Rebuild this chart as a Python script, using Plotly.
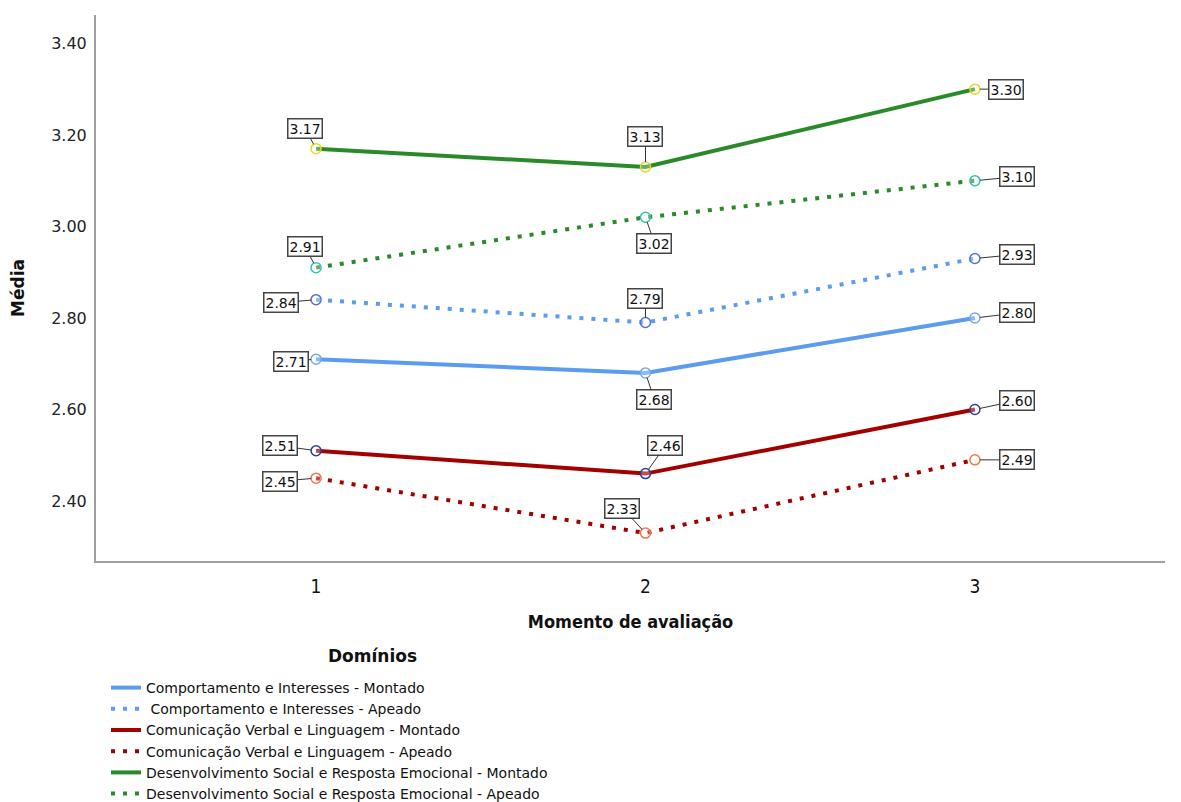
import plotly.graph_objects as go

moments = [1, 2, 3]
series_names = [
    "Comportamento e Interesses - Montado",
    " Comportamento e Interesses - Apeado",
    "Comunicação Verbal e Linguagem - Montado",
    "Comunicação Verbal e Linguagem - Apeado",
    "Desenvolvimento Social e Resposta Emocional - Montado",
    "Desenvolvimento Social e Resposta Emocional - Apeado",
]
ci_montado = [2.71, 2.68, 2.80]
ci_apeado = [2.84, 2.79, 2.93]
cvl_montado = [2.51, 2.46, 2.60]
cvl_apeado = [2.45, 2.33, 2.49]
dsre_montado = [3.17, 3.13, 3.30]
dsre_apeado = [2.91, 3.02, 3.10]
y_ticks = [2.40, 2.60, 2.80, 3.00, 3.20, 3.40]

series_values = [ci_montado, ci_apeado, cvl_montado, cvl_apeado, dsre_montado, dsre_apeado]
line_colors = ["#5b9cf0", "#5b9cf0", "#a30000", "#a30000", "#2a8a2a", "#2a8a2a"]
dashes = ["solid", "4px,8px", "solid", "4px,8px", "solid", "4px,8px"]
marker_colors = ["#7aa8e8", "#5a6fd0", "#2c3f95", "#f07848", "#e4d820", "#30c4b0"]

# label offsets (ax, ay) in pixels for each series at each moment
offsets = [
    [(-25, 2), (9, 27), (42, -5)],
    [(-35, 3), (0, -24), (42, -4)],
    [(-36, -5), (20, -28), (42, -9)],
    [(-36, 3), (-23, -25), (42, 0)],
    [(-11, -20), (0, -30), (31, 0)],
    [(-11, -21), (9, 26), (42, -4)],
]

# page is offset by the 8px body margin; plot area in page px: x 96..1165, y 15..561
PW, PH = 1069, 546

fig = go.Figure()
for name, vals, lc, dash, mc in zip(series_names, series_values, line_colors, dashes, marker_colors):
    fig.add_trace(go.Scatter(
        x=moments, y=vals, name=name, mode="lines",
        line=dict(color=lc, width=4, dash=dash),
    ))
for vals, mc in zip(series_values, marker_colors):
    fig.add_trace(go.Scatter(
        x=moments, y=vals, mode="markers", showlegend=False, hoverinfo="skip",
        marker=dict(symbol="circle", size=10, color="rgba(255,255,255,0.3)",
                    line=dict(color=mc, width=1.5)),
    ))

annotations = []
for vals, offs in zip(series_values, offsets):
    for xv, yv, (ax, ay) in zip(moments, vals, offs):
        annotations.append(dict(
            x=xv, y=yv, xref="x", yref="y", text=f"{yv:.2f}",
            showarrow=True, arrowhead=0, arrowwidth=1, arrowcolor="#333333",
            ax=ax, ay=ay, standoff=5,
            font=dict(family="DejaVu Sans", size=14, color="#111111"),
            bgcolor="white", bordercolor="#444444", borderwidth=1.5, borderpad=1,
        ))

# legend title as separate text
annotations.append(dict(
    x=(372 - 96) / PW, y=(561 - 656) / PH, xref="paper", yref="paper",
    text="<b>Domínios</b>", showarrow=False, xanchor="center", yanchor="middle",
    font=dict(family="DejaVu Sans", size=17, color="#111111"),
))

cond = "Liberation Sans Narrow, DejaVu Sans Condensed, sans-serif"

fig.update_layout(
    width=1181, height=802,
    margin=dict(l=88, r=24, t=7, b=249, autoexpand=False),
    paper_bgcolor="white", plot_bgcolor="white",
    font=dict(family="DejaVu Sans", color="#222222"),
    annotations=annotations,
    showlegend=True,
    legend=dict(
        x=(106 - 96) / PW, y=-(672 - 561) / PH, xref="paper", yref="paper",
        xanchor="left", yanchor="top",
        font=dict(family="DejaVu Sans", size=14, color="#111111"),
        itemwidth=30, tracegroupgap=0, bgcolor="rgba(0,0,0,0)",
    ),
    xaxis=dict(
        range=[0.332, 3.577], tickvals=moments, ticktext=[str(m) for m in moments],
        showgrid=False, zeroline=False, showline=True, linecolor="#a0a0a0", linewidth=2,
        ticks="outside", ticklen=7, tickcolor="rgba(0,0,0,0)", automargin=False,
        tickfont=dict(family=cond, size=19, color="#111111"),
        title=dict(text="<b>Momento de avaliação</b>", standoff=20,
                   font=dict(family=cond, size=18, color="#111111")),
    ),
    yaxis=dict(
        range=[2.269, 3.462], tickvals=y_ticks, ticktext=[f"{v:.2f}" for v in y_ticks],
        showgrid=False, zeroline=False, showline=True, linecolor="#a0a0a0", linewidth=2,
        ticks="outside", ticklen=4, tickcolor="rgba(0,0,0,0)", automargin=False,
        tickfont=dict(family="DejaVu Sans", size=16, color="#222222"),
        title=dict(text="<b>Média</b>", standoff=22,
                   font=dict(family="DejaVu Sans", size=17, color="#111111")),
    ),
)

fig.write_html("out.html")
